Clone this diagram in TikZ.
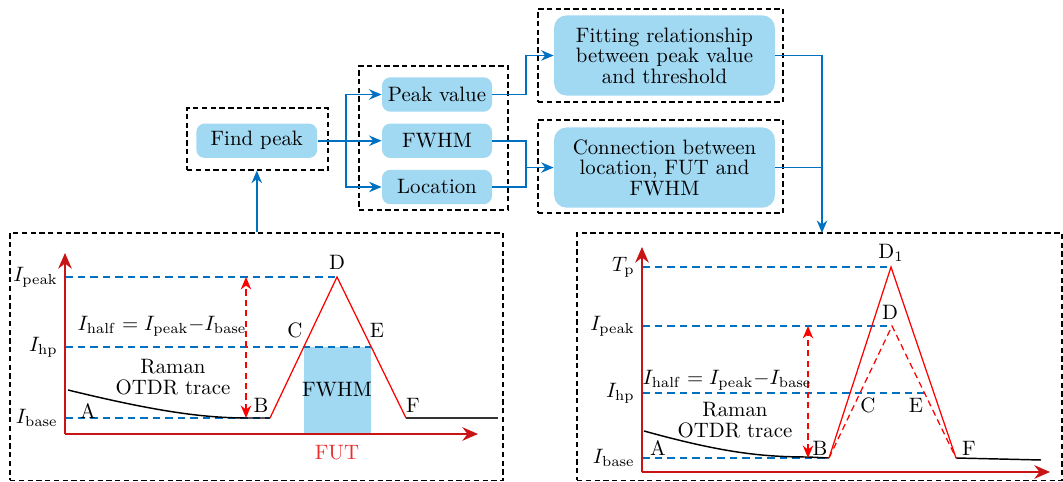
\documentclass[tikz,border=0pt]{standalone}
\usepackage{amsmath}
\usepackage{tikz}
\usetikzlibrary{arrows.meta,positioning,fit}
\definecolor{boxblue}{RGB}{161,216,242}
\definecolor{flowblue}{RGB}{0,112,192}
\definecolor{axisred}{RGB}{200,20,20}
\definecolor{futred}{RGB}{235,45,45}
\begin{document}
\begin{tikzpicture}[x=0.48pt,y=-0.48pt,font=\linespread{0.82}\selectfont,
box/.style={fill=boxblue,rounded corners=4pt,minimum height=16.5pt,minimum width=52.8pt,align=center,inner sep=2pt},
bigbox/.style={box,minimum width=106pt,minimum height=38.5pt,rounded corners=6pt},
frame/.style={draw,dash pattern=on 2.6pt off 1.6pt,line width=0.6pt,inner sep=0pt},
arr/.style={-{Stealth[length=6pt,width=5pt]},flowblue,line width=0.8pt},
wire/.style={flowblue,line width=0.8pt},
lvl/.style={flowblue,dash pattern=on 3.6pt off 2.4pt,line width=0.6pt},
axis/.style={-{Stealth[length=7.5pt,width=6.5pt]},axisred,line width=1pt},
trace/.style={red,line width=0.6pt},
gap/.style={{Stealth[length=6pt,width=5pt]}-{Stealth[length=6pt,width=5pt]},red,dash pattern=on 3pt off 2pt,line width=0.7pt}]
\useasboundingbox (0,0) rectangle (1063,482);
\node[box] (peakval) at (437,94.5) {Peak value};
\node[box,below=5.3pt of peakval] (fwhm) {FWHM};
\node[box,below=5.3pt of fwhm] (location) {Location};
\node[box,minimum width=58pt,left=30.7pt of fwhm] (findpeak) {Find peak};
\node[bigbox] (fitting) at (664.5,55.5) {Fitting relationship\\between peak value\\and threshold};
\node[bigbox,below=14.9pt of fitting] (connection) {Connection between\\location, FUT and\\FWHM};
\node[frame,fit={(187,108) (328,170)}] (fpframe) {};
\node[frame,fit={(359,66) (508,210)}] (valframe) {};
\node[frame,fit={(538,9) (783,102)}] (fitframe) {};
\node[frame,fit={(538,120) (783,213)}] (conframe) {};
\node[frame,fit={(10,233) (503,480.5)}] (lframe) {};
\node[frame,fit={(577,233) (1062,480.5)}] (rframe) {};
\coordinate (split) at (346,0); \coordinate (join) at (526,0); \coordinate (drop) at (822,233);
\draw[arr] (findpeak.east) -- (fwhm.west); \draw[arr] (split |- findpeak.east) |- (peakval.west); \draw[arr] (split |- findpeak.east) |- (location.west);
\draw[arr] (peakval.east) -| (join |- fitting.west) -- (fitting.west);
\draw[arr] (fwhm.east) -| (join |- connection.west) -- (connection.west); \draw[wire] (location.east) -| (join |- connection.west);
\draw[wire] (fitting.east) -| (drop |- connection.east); \draw[arr] (connection.east) -| (drop);
\draw[arr] (lframe.north -| findpeak) -- (fpframe.south -| findpeak);
\coordinate (O1) at (65,434); \coordinate (A1) at (68,390); \coordinate (B1) at (270,418); \coordinate (D1) at (337,277);
\coordinate (F1) at (406,418); \coordinate (C1) at (303.5,347); \coordinate (E1) at (371,347); \coordinate (h1) at (246,0);
\fill[boxblue] (C1) rectangle (E1 |- O1);
\node (fwhmlbl) at (337,390) {FWHM};
\draw[lvl] (O1 |- D1) -- (D1); \draw[lvl] (O1 |- C1) -- (E1); \draw[lvl] (O1 |- B1) -- (B1);
\draw[line width=0.7pt] (A1) .. controls (150,410) and (200,418) .. (247,418) -- (B1); \draw[line width=0.9pt,black!80] (F1) -- (498,418);
\draw[trace] (B1) -- (D1) -- (F1);
\draw[gap] (h1 |- B1) -- (h1 |- D1);
\draw[axis] (O1) -- (65,253); \draw[axis] (O1) -- (478,434);
\node[left=0pt] at (O1 |- D1) {$I_{\mathrm{peak}}$}; \node[left=0pt] at (O1 |- C1) {$I_{\mathrm{hp}}$}; \node[left=0pt] at (O1 |- B1) {$I_{\mathrm{base}}$};
\node at (88,411) {A}; \node at (261,405) {B}; \node at (295,330) {C}; \node[above=0pt of D1] {D}; \node at (377,330) {E}; \node at (413,405) {F};
\node at (162,326) {$I_{\mathrm{half}}=I_{\mathrm{peak}}{-}I_{\mathrm{base}}$};
\node[align=center] at (173,377) {Raman\\OTDR trace};
\node[text=futred] at (337,453) {FUT};
\coordinate (O2) at (642,472); \coordinate (A2) at (644,431); \coordinate (B2) at (829,458); \coordinate (P2) at (891,267);
\coordinate (D2) at (892,326); \coordinate (F2) at (956,458); \coordinate (C2) at (860,393); \coordinate (E2) at (925,393); \coordinate (h2) at (808,0);
\draw[lvl] (O2 |- P2) -- (P2); \draw[lvl] (O2 |- D2) -- (D2); \draw[lvl] (O2 |- C2) -- (E2); \draw[lvl] (O2 |- B2) -- (B2);
\draw[line width=0.7pt] (A2) .. controls (720,452) and (760,457) .. (808,457) -- (B2); \draw[line width=0.7pt] (F2) -- (1041,460);
\draw[trace] (B2) -- (P2) -- (F2); \draw[trace,dash pattern=on 3pt off 2pt] (B2) -- (D2) -- (F2);
\draw[gap] (h2 |- B2) -- (h2 |- D2);
\draw[axis] (O2) -- (642,247); \draw[axis] (O2) -- (1050,472);
\node[left=0pt] at (O2 |- P2) {$T_{\mathrm{p}}$}; \node[left=0pt] at (O2 |- D2) {$I_{\mathrm{peak}}$}; \node[left=0pt] at (O2 |- C2) {$I_{\mathrm{hp}}$}; \node[left=0pt] at (O2 |- B2) {$I_{\mathrm{base}}$};
\node at (658,448) {A}; \node at (820,448) {B}; \node at (868,405) {C}; \node at (891,253) {D$_1$}; \node at (890,312) {D}; \node at (916,405) {E}; \node at (969,448) {F};
\node at (727,380) {$I_{\mathrm{half}}=I_{\mathrm{peak}}{-}I_{\mathrm{base}}$};
\node[align=center] at (735,420) {Raman\\OTDR trace};
\end{tikzpicture}
\end{document}
